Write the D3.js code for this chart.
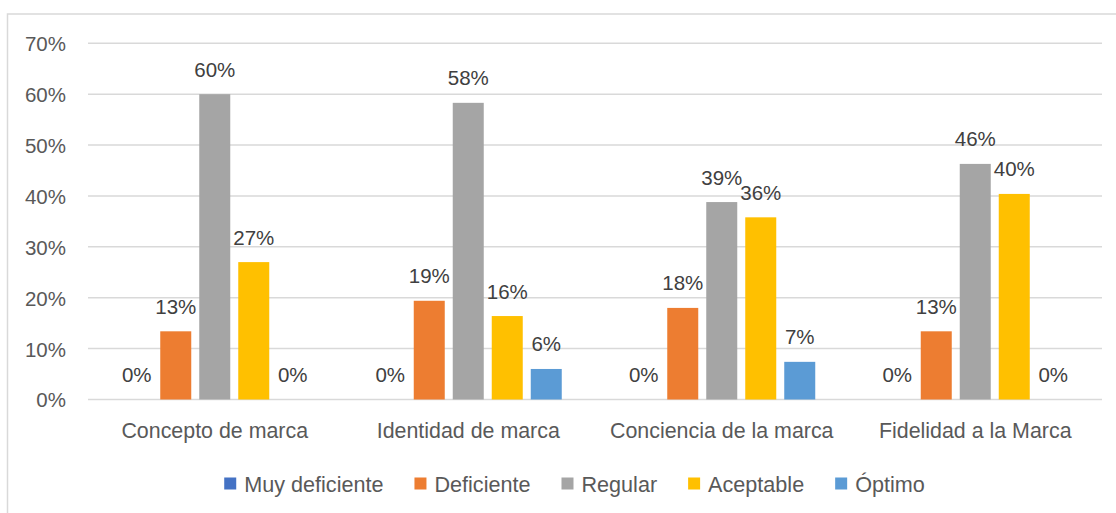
<!DOCTYPE html>
<html>
<head>
<meta charset="utf-8">
<script src="https://cdn.jsdelivr.net/npm/d3@7"></script>
<style>
  html, body { margin: 0; padding: 0; background: #ffffff; }
  svg { display: block; font-family: "Liberation Sans", Arial, sans-serif; }
</style>
</head>
<body>
<svg id="chart" width="1116" height="513"></svg>
<script>
// ---- data ----
const categories = ["Concepto de marca", "Identidad de marca", "Conciencia de la marca", "Fidelidad a la Marca"];
const seriesNames = ["Muy deficiente", "Deficiente", "Regular", "Aceptable", "Óptimo"];
const muyDeficiente = [0, 0, 0, 0];
const deficiente    = [0.134, 0.194, 0.180, 0.134];
const regular       = [0.600, 0.583, 0.388, 0.463];
const aceptable     = [0.270, 0.164, 0.358, 0.404];
const optimo        = [0, 0.060, 0.074, 0];
const yTicks = [0, 0.1, 0.2, 0.3, 0.4, 0.5, 0.6, 0.7];
const seriesColors = ["#4472C4", "#ED7D31", "#A5A5A5", "#FFC000", "#5B9BD5"];

const seriesValues = [muyDeficiente, deficiente, regular, aceptable, optimo];

const svg = d3.select("#chart");
const textColor = "#595959";
const gridColor = "#d9d9d9";

// outer chart border
svg.append("rect")
  .attr("x", 7.5).attr("y", 14)
  .attr("width", 1130).attr("height", 520)
  .attr("fill", "none").attr("stroke", gridColor).attr("stroke-width", 1.5);

// scales
const x0 = d3.scaleBand().domain(categories).range([88, 1102]).paddingInner(0).paddingOuter(0);
const x1 = d3.scaleBand().domain(seriesNames).range([-93.5, 93.5]).paddingInner(8 / 39).paddingOuter(0);
const y = d3.scaleLinear().domain([0, 0.7]).range([399.5, 43.3]);
const pct = d3.format(".0%");

// gridlines
svg.append("g").selectAll("line").data(yTicks).join("line")
  .attr("x1", 88).attr("x2", 1102)
  .attr("y1", d => y(d)).attr("y2", d => y(d))
  .attr("stroke", gridColor).attr("stroke-width", 1.5);

// y axis labels
const yAxis = d3.axisLeft(y).tickValues(yTicks).tickFormat(pct).tickSize(0).tickPadding(0);
const yg = svg.append("g").attr("transform", "translate(66,0)").call(yAxis);
yg.select(".domain").remove();
yg.selectAll("text")
  .attr("fill", textColor).attr("font-size", "20.5px")
  .attr("font-family", "Liberation Sans, Arial, sans-serif")
  .attr("dy", "0.36em").attr("x", 0);

// category labels
const xAxis = d3.axisBottom(x0).tickSize(0).tickPadding(0);
const xg = svg.append("g").attr("transform", "translate(0,0)").call(xAxis);
xg.select(".domain").remove();
xg.selectAll("text")
  .attr("fill", textColor).attr("font-size", "21.4px")
  .attr("font-family", "Liberation Sans, Arial, sans-serif")
  .attr("y", 438).attr("dy", 0);

// bars
const flat = [];
categories.forEach((c, ci) => {
  seriesNames.forEach((s, si) => {
    flat.push({ cat: c, ser: s, si: si, v: seriesValues[si][ci] });
  });
});

const groups = svg.append("g");
groups.selectAll("rect").data(flat).join("rect")
  .attr("x", d => x0(d.cat) + x0.bandwidth() / 2 + x1(d.ser))
  .attr("y", d => y(d.v))
  .attr("width", x1.bandwidth())
  .attr("height", d => y(0) - y(d.v))
  .attr("fill", d => seriesColors[d.si]);

// value labels
svg.append("g").selectAll("text").data(flat).join("text")
  .attr("x", d => x0(d.cat) + x0.bandwidth() / 2 + x1(d.ser) + x1.bandwidth() / 2)
  .attr("y", d => y(d.v) - 17.5)
  .attr("text-anchor", "middle")
  .attr("fill", "#404040")
  .attr("font-size", "20.5px")
  .text(d => pct(d.v));

// legend
const legend = svg.append("g");
const items = legend.selectAll("g").data(seriesNames).join("g");
items.append("rect")
  .attr("width", 12).attr("height", 12)
  .attr("y", 477.5)
  .attr("fill", (d, i) => seriesColors[i]);
items.append("text")
  .attr("x", 20).attr("y", 491.5)
  .attr("fill", textColor).attr("font-size", "21.6px")
  .text(d => d);
let cx = 0;
const offsets = [];
items.each(function () {
  const w = d3.select(this).select("text").node().getComputedTextLength();
  offsets.push(cx);
  cx += 20 + w + 31;
});
const totalW = cx - 31;
const startX = 574.5 - totalW / 2;
items.attr("transform", (d, i) => `translate(${startX + offsets[i]},0)`);
</script>
</body>
</html>
